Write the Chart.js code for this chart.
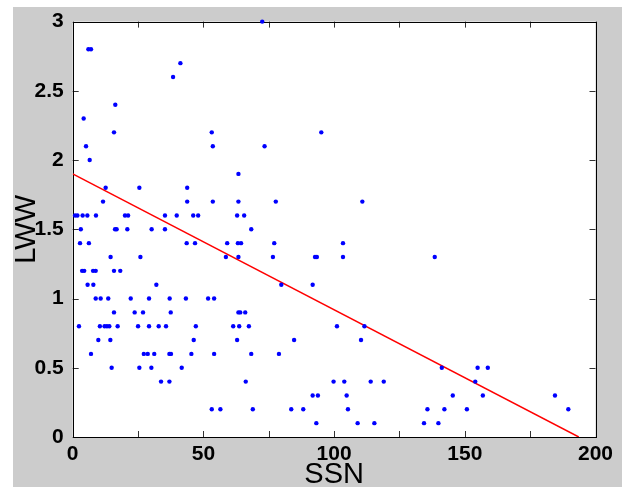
<!DOCTYPE html>
<html>
<head>
<meta charset="utf-8">
<title>LWW vs SSN</title>
<script src="https://cdn.jsdelivr.net/npm/chart.js@4"></script>
<style>
  html, body { margin: 0; padding: 0; background: #ffffff; }
  canvas { display: block; }
</style>
</head>
<body>
<canvas id="chart" width="622" height="487"></canvas>
<script>
// LWW levels (rows of dots) and SSN values for each row
const lwwLevels = [3.0, 2.8, 2.7, 2.6, 2.4, 2.3, 2.2, 2.1, 2.0, 1.9, 1.8, 1.7, 1.6, 1.5,
                   1.4, 1.3, 1.2, 1.1, 1.0, 0.9, 0.8, 0.7, 0.6, 0.5, 0.4, 0.3, 0.2, 0.1];
const ssnByLevel = [
    [72.5],
    [6.0, 7.0],
    [41.2],
    [38.4],
    [16.3],
    [4.2],
    [15.8, 53.2, 95.1],
    [5.1, 53.6, 73.4],
    [6.5],
    [63.4],
    [12.6, 25.5, 43.8],
    [11.6, 43.8, 53.6, 63.4, 77.7, 110.8],
    [0.9, 1.8, 3.8, 5.6, 8.9, 20.0, 21.2, 35.3, 39.8, 46.1, 48.0, 62.9, 65.6],
    [3.1, 16.2, 16.8, 20.9, 30.2, 35.3, 68.3],
    [2.8, 6.2, 43.6, 46.8, 59.1, 63.2, 64.4, 77.1, 103.4],
    [14.5, 25.9, 58.6, 63.4, 76.6, 92.7, 93.4, 103.4, 138.5],
    [3.6, 4.4, 7.8, 8.8, 15.8, 18.2],
    [5.7, 7.9, 32.0, 79.8, 91.8],
    [8.8, 10.7, 13.6, 22.2, 29.2, 37.1, 43.3, 51.8, 54.1],
    [15.8, 23.7, 26.9, 37.5, 63.4, 64.1, 66.0],
    [2.4, 10.4, 12.2, 13.1, 14.0, 17.2, 25.0, 29.2, 32.9, 35.7, 47.1, 61.4, 63.7, 67.4, 101.1, 111.6],
    [9.8, 14.4, 46.3, 62.9, 84.7, 110.3],
    [7.0, 27.2, 28.7, 31.2, 37.0, 37.6, 45.4, 54.1, 68.3, 78.9],
    [14.9, 25.5, 30.1, 41.7, 141.2, 154.9, 158.8],
    [33.8, 37.0, 66.2, 99.8, 103.9, 114.0, 119.0, 154.0],
    [91.8, 93.8, 104.8, 145.4, 156.9, 184.5],
    [53.2, 56.5, 68.9, 83.6, 88.2, 105.3, 135.7, 142.2, 150.8, 189.6],
    [93.2, 109.0, 115.4, 134.4, 139.9]
];

// fitted line end points
const fitSsn = [0, 193.6];
const fitLww = [1.9, 0];

const xTickLabels = [0, 50, 100, 150, 200];

let points = [];
lwwLevels.forEach((lww, i) => {
    ssnByLevel[i].forEach(ssn => points.push({ x: ssn, y: lww }));
});
const fitPoints = fitSsn.map((x, i) => ({ x: x, y: fitLww[i] }));

// gray figure background, white axes box
const backdrop = {
    id: 'backdrop',
    beforeDraw(chart) {
        const ctx = chart.ctx;
        const a = chart.chartArea;
        ctx.save();
        ctx.fillStyle = '#ffffff';
        ctx.fillRect(0, 0, chart.width, chart.height);
        ctx.fillStyle = '#cccccc';
        ctx.fillRect(13, 7, chart.width - 13, chart.height - 7);
        ctx.fillStyle = '#ffffff';
        ctx.fillRect(a.left, a.top, a.right - a.left, a.bottom - a.top);
        ctx.restore();
    },
    beforeDatasetsDraw(chart) {
        // box and inward ticks on all four sides
        const ctx = chart.ctx;
        const a = chart.chartArea;
        const xs = chart.scales.x, ys = chart.scales.y;
        const len = 6;
        ctx.save();
        ctx.strokeStyle = '#333333';
        ctx.lineWidth = 1;
        ctx.beginPath();
        xs.ticks.forEach(t => {
            const px = Math.round(xs.getPixelForValue(t.value)) + 0.5;
            ctx.moveTo(px, a.bottom); ctx.lineTo(px, a.bottom - len);
            ctx.moveTo(px, a.top); ctx.lineTo(px, a.top + len);
        });
        ys.ticks.forEach(t => {
            const py = Math.round(ys.getPixelForValue(t.value)) + 0.5;
            ctx.moveTo(a.left, py); ctx.lineTo(a.left + len, py);
            ctx.moveTo(a.right, py); ctx.lineTo(a.right - len, py);
        });
        ctx.stroke();
        ctx.strokeStyle = '#000000';
        ctx.strokeRect(Math.round(a.left) + 0.5, Math.round(a.top) + 0.5,
                       Math.round(a.right - a.left), Math.round(a.bottom - a.top));
        ctx.restore();
    }
};

new Chart(document.getElementById('chart'), {
    type: 'scatter',
    data: {
        datasets: [
            {
                label: 'LWW',
                data: points,
                backgroundColor: '#0000ff',
                borderWidth: 0,
                pointRadius: 2.2,
                clip: false
            },
            {
                label: 'fit',
                data: fitPoints,
                showLine: true,
                borderColor: '#ff0000',
                borderWidth: 1.5,
                pointRadius: 0
            }
        ]
    },
    options: {
        responsive: false,
        animation: false,
        layout: { padding: { left: 0, top: 21.5, right: 26.5, bottom: 0 } },
        plugins: {
            legend: { display: false },
            tooltip: { enabled: false }
        },
        scales: {
            x: {
                type: 'linear',
                min: 0,
                max: 200,
                afterFit: s => { s.height = 50; },
                grid: { display: false, drawTicks: false },
                border: { display: false },
                ticks: {
                    stepSize: 25,
                    autoSkip: false,
                    maxRotation: 0,
                    padding: 5,
                    color: '#000000',
                    font: { family: '"Liberation Sans", Arial, sans-serif', size: 21, weight: 'bold' },
                    callback: v => xTickLabels.includes(v) ? String(v) : ''
                },
                title: {
                    display: true,
                    text: 'SSN',
                    color: '#000000',
                    padding: 0,
                    font: { family: '"Liberation Sans", Arial, sans-serif', size: 29, lineHeight: 0.8 }
                }
            },
            y: {
                type: 'linear',
                min: 0,
                max: 3,
                afterFit: s => { s.width = 72.7; },
                grid: { display: false, drawTicks: false },
                border: { display: false },
                ticks: {
                    stepSize: 0.5,
                    padding: 9,
                    color: '#000000',
                    font: { family: '"Liberation Sans", Arial, sans-serif', size: 21, weight: 'bold' },
                    callback: v => String(Math.round(v * 10) / 10)
                },
                title: {
                    display: true,
                    text: 'LWW',
                    color: '#000000',
                    padding: { top: 10, bottom: 0 },
                    font: { family: '"Liberation Sans", Arial, sans-serif', size: 29 }
                }
            }
        }
    },
    plugins: [backdrop]
});
</script>
</body>
</html>
